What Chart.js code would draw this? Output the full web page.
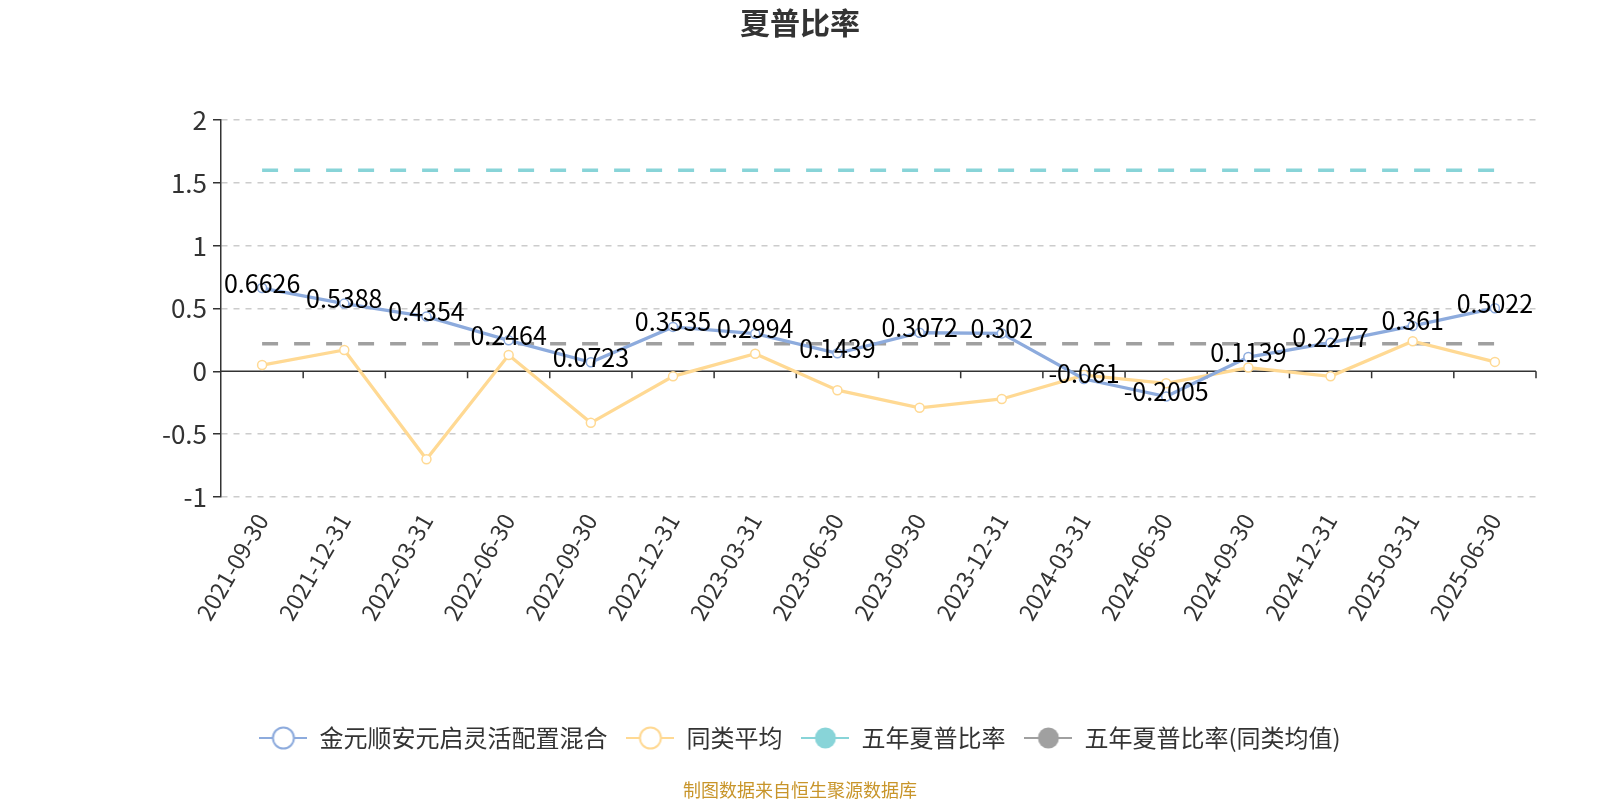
<!DOCTYPE html>
<html lang="zh">
  <head>
    <meta charset="UTF-8" />
    <title>夏普比率</title>
    <script src="https://cdn.jsdelivr.net/npm/chart.js"></script>
    <style>
      html, body { margin: 0; padding: 0; background: #fff; }
      #box { width: 1600px; height: 800px; }
    </style>
  </head>
  <body>
    <div id="box"><canvas id="myChart"></canvas></div>
    <script>
// 数据
const dates = ["2021-09-30", "2021-12-31", "2022-03-31", "2022-06-30", "2022-09-30", "2022-12-31",
  "2023-03-31", "2023-06-30", "2023-09-30", "2023-12-31", "2024-03-31", "2024-06-30",
  "2024-09-30", "2024-12-31", "2025-03-31", "2025-06-30"];
const fundSharpe = [0.6626, 0.5388, 0.4354, 0.2464, 0.0723, 0.3535, 0.2994, 0.1439,
  0.3072, 0.302, -0.061, -0.2005, 0.1139, 0.2277, 0.361, 0.5022];
const peerAvg = [0.05, 0.17, -0.70, 0.13, -0.41, -0.04, 0.14, -0.15,
  -0.29, -0.22, -0.03, -0.095, 0.03, -0.04, 0.24, 0.075];
const fiveYear = 1.6;
const fiveYearPeer = 0.22;
const yTicks = [-1, -0.5, 0, 0.5, 1, 1.5, 2];

const FONT = "'Noto Sans CJK SC', 'Noto Sans', sans-serif";

// 图例小图标: 线 + 圆
function legendIcon(color, hollow) {
  const c = document.createElement("canvas");
  c.width = 48; c.height = 26;
  const g = c.getContext("2d");
  g.strokeStyle = color;
  g.lineWidth = 2;
  g.beginPath(); g.moveTo(0, 13); g.lineTo(48, 13); g.stroke();
  g.beginPath(); g.arc(24, 13, 10.5, 0, Math.PI * 2);
  g.fillStyle = hollow ? "#fff" : color;
  g.fill();
  if (hollow) g.stroke();
  return c;
}

const colors = ["#8dabdd", "#ffd993", "#88d4d8", "#a0a0a0"];
const icons = [legendIcon(colors[0], true), legendIcon(colors[1], true),
  legendIcon(colors[2], false), legendIcon(colors[3], false)];

// 零线 + 刻度, 数值标签, 标题和来源
const extras = {
  id: "extras",
  beforeDatasetsDraw(chart) {
    const { ctx, chartArea, scales } = chart;
    const y0 = scales.y.getPixelForValue(0);
    const n = dates.length;
    const step = (chartArea.right - chartArea.left) / n;
    ctx.save();
    ctx.strokeStyle = "#333";
    ctx.lineWidth = 1.5;
    ctx.beginPath();
    ctx.moveTo(chartArea.left, y0);
    ctx.lineTo(chartArea.right, y0);
    for (let i = 1; i <= n; i++) {
      const x = chartArea.left + i * step;
      ctx.moveTo(x, y0);
      ctx.lineTo(x, y0 + 7);
    }
    ctx.stroke();
    ctx.restore();
  },
  afterDatasetsDraw(chart) {
    const { ctx } = chart;
    const meta = chart.getDatasetMeta(0);
    ctx.save();
    ctx.font = "25px " + FONT;
    ctx.fillStyle = "#000";
    ctx.textAlign = "center";
    ctx.textBaseline = "middle";
    meta.data.forEach((pt, i) => {
      ctx.fillText(String(fundSharpe[i]), pt.x, pt.y - 5);
    });
    ctx.restore();
  },
  afterDraw(chart) {
    const { ctx, width } = chart;
    ctx.save();
    ctx.textAlign = "center";
    ctx.textBaseline = "middle";
    ctx.font = "bold 30px " + FONT;
    ctx.fillStyle = "#333";
    ctx.fillText("夏普比率", width / 2, 23);
    ctx.font = "18px " + FONT;
    ctx.fillStyle = "#c8952a";
    ctx.fillText("制图数据来自恒生聚源数据库", width / 2, 790);
    ctx.restore();
  }
};

new Chart(document.getElementById("myChart"), {
  type: "line",
  data: {
    labels: dates,
    datasets: [
      {
        label: "金元顺安元启灵活配置混合",
        data: fundSharpe,
        borderColor: colors[0],
        backgroundColor: "#fff",
        borderWidth: 3.3,
        pointRadius: 4.5,
        pointBorderWidth: 1.5,
        pointBorderColor: colors[0],
        pointBackgroundColor: "#fff"
      },
      {
        label: "同类平均",
        data: peerAvg,
        borderColor: colors[1],
        backgroundColor: "#fff",
        borderWidth: 3.3,
        pointRadius: 4.5,
        pointBorderWidth: 1.5,
        pointBorderColor: colors[1],
        pointBackgroundColor: "#fff"
      },
      {
        label: "五年夏普比率",
        data: dates.map(() => fiveYear),
        borderColor: colors[2],
        backgroundColor: colors[2],
        borderWidth: 3.5,
        borderDash: [16, 16],
        pointRadius: 0
      },
      {
        label: "五年夏普比率(同类均值)",
        data: dates.map(() => fiveYearPeer),
        borderColor: colors[3],
        backgroundColor: colors[3],
        borderWidth: 3.5,
        borderDash: [16, 16],
        pointRadius: 0
      }
    ]
  },
  options: {
    responsive: true,
    maintainAspectRatio: false,
    animation: false,
    layout: { padding: { left: 64, right: 64, top: 120, bottom: 40 } },
    scales: {
      x: {
        offset: true,
        grid: { display: false },
        border: { display: false },
        ticks: {
          color: "#333",
          font: { size: 23, family: FONT },
          minRotation: 60,
          maxRotation: 60,
          padding: 4,
          autoSkip: false
        },
        afterFit(scale) { scale.height = 210; }
      },
      y: {
        min: -1,
        max: 2,
        afterBuildTicks(scale) { scale.ticks = yTicks.map(v => ({ value: v })); },
        grid: {
          color: ctx => (ctx.tick && ctx.tick.value === 0 ? "rgba(0,0,0,0)" : "#cccccc"),
          lineWidth: 1.5,
          tickColor: "#333",
          tickLength: 8
        },
        border: { display: true, color: "#333", width: 1.5, dash: [6, 6] },
        ticks: {
          color: "#333",
          font: { size: 26, family: FONT },
          padding: 6,
          callback: v => String(v)
        },
        afterFit(scale) { scale.width = 157; }
      }
    },
    plugins: {
      legend: {
        position: "bottom",
        labels: {
          usePointStyle: true,
          pointStyleWidth: 48,
          color: "#333",
          font: { size: 24, family: FONT },
          padding: 19,
          generateLabels(chart) {
            return chart.data.datasets.map((ds, i) => ({
              text: ds.label,
              pointStyle: icons[i],
              fillStyle: colors[i],
              strokeStyle: colors[i],
              lineWidth: 0,
              fontColor: "#333",
              hidden: false,
              datasetIndex: i
            }));
          }
        }
      },
      title: { display: false },
      tooltip: { enabled: false }
    }
  },
  plugins: [extras]
});
    </script>
  </body>
</html>
